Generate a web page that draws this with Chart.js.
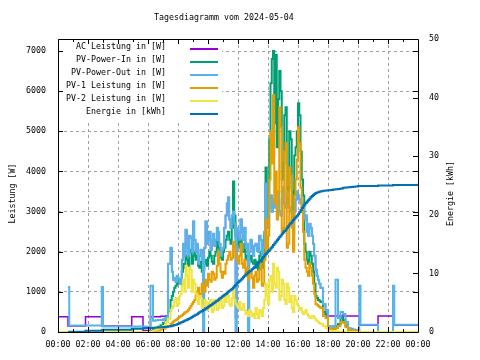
<!DOCTYPE html>
<html>
<head>
<meta charset="utf-8">
<title>Tagesdiagramm</title>
<script src="https://cdn.jsdelivr.net/npm/chart.js@4.4.0/dist/chart.umd.min.js"></script>
<style>
  html, body { margin: 0; padding: 0; background: #fff; }
  canvas { display: block; }
</style>
</head>
<body>
<canvas id="chart" width="480" height="360"></canvas>
<script>
// values, one entry per time stamp
var times = [
  "00:00", "00:40", "00:45", "01:50", "02:55", "03:00", "04:55", "05:40", "05:50",
  "06:00", "06:10", "06:20", "06:30", "06:40", "06:50", "07:00", "07:10", "07:20",
  "07:30", "07:35", "07:40", "07:45", "07:50", "07:55", "08:00", "08:05", "08:10", "08:15", "08:20", "08:25",
  "08:30", "08:35", "08:40", "08:45", "08:50", "08:55", "09:00", "09:05", "09:10", "09:15", "09:20", "09:25",
  "09:30", "09:35", "09:40", "09:45", "09:50", "09:55", "10:00", "10:05", "10:10", "10:15", "10:20", "10:25",
  "10:30", "10:35", "10:40", "10:45", "10:50", "10:55", "11:00", "11:05", "11:10", "11:15", "11:20", "11:25",
  "11:30", "11:35", "11:40", "11:45", "11:50", "11:55", "12:00", "12:05", "12:10", "12:15", "12:20", "12:25",
  "12:30", "12:35", "12:40", "12:45", "12:50", "12:55", "13:00", "13:05", "13:10", "13:15", "13:20", "13:25",
  "13:30", "13:35", "13:40", "13:45", "13:50", "13:55", "14:00", "14:05", "14:10", "14:15", "14:20", "14:25",
  "14:30", "14:35", "14:40", "14:45", "14:50", "14:55", "15:00", "15:05", "15:10", "15:15", "15:20", "15:25",
  "15:30", "15:35", "15:40", "15:45", "15:50", "15:55", "16:00", "16:05", "16:10", "16:15", "16:20", "16:25",
  "16:30", "16:35", "16:40", "16:45", "16:50", "16:55", "17:00", "17:05", "17:10", "17:15", "17:20", "17:25",
  "17:30",
  "17:40", "17:50", "18:00", "18:10", "18:20", "18:30", "18:40", "18:50", "19:00", "19:10", "19:20", "19:30",
  "19:40", "19:50", "20:00",
  "20:05", "20:10", "21:20", "22:20", "22:25", "24:00"
];

var acPower = [
  380, 150, 150, 380, 150, 150, 380, 40, 40,
  40, 380, 380, 380, 380, 390, 390, 400, 1700,
  2100, 1500, 1300, 1350, 1250, 1400, 1350, 1250, 1200, 1800, 2200, 1900,
  2550, 2100, 1900, 2400, 2350, 2000, 2750, 2300, 2000, 2200, 1700, 1900,
  2050, 1800, 350, 2100, 2750, 2200, 2300, 2500, 2050, 2300, 2450, 2150,
  2300, 2600, 2500, 2200, 1900, 2050, 2100, 2600, 2900, 3200, 3350, 2800,
  2600, 2900, 3000, 2700, 350, 2600, 2500, 2300, 2800, 2500, 2300, 2600,
  2100, 2200, 350, 2000, 2300, 2100, 1900, 2150, 2200, 2050, 2000, 2400,
  2300, 1900, 2100, 2500, 3700, 2800, 2600, 3100, 3400, 3000, 3300, 3100,
  3200, 3400, 3500, 3000, 2900, 3300, 3600, 3200, 3100, 3500, 3400, 3100,
  3000, 2700, 2400, 3000, 3300, 3500, 3400, 3300, 3200, 3000, 3100, 2800,
  2900, 2500, 2400, 2700, 2600, 2400, 2200, 1900, 1550, 1400, 1300, 1200,
  1100,
  700, 400, 400, 400, 400, 400, 400, 400, 400, 400, 400, 400,
  400, 400, 400,
  170, 170, 400, 170, 170, 170
];

var pvIn = [
  0, 0, 0, 0, 0, 0, 0, 0, 0,
  0, 20, 50, 90, 130, 170, 230, 380, 520,
  800, 900, 1000, 1100, 1150, 1200, 1250, 1300, 1200, 1500, 1700, 1600,
  1900, 1800, 1650, 2050, 2000, 1700, 1900, 2000, 1800, 1900, 1650, 1600,
  1750, 1500, 1550, 1700, 1800, 1650, 1850, 2000, 1900, 1750, 1700, 1900,
  2000, 2250, 2100, 1900, 1850, 1800, 2000, 2100, 2300, 2400, 2500, 2300,
  2200, 2600, 3750, 2900, 2400, 2200, 2300, 2100, 2300, 2000, 2000, 2200,
  1800, 1900, 1700, 1800, 1900, 1750, 1700, 1800, 1600, 1750, 1550, 1900,
  2000, 1600, 1800, 2400, 4100, 2700, 3000, 4800, 6200, 6800, 7000, 5200,
  6900, 4600, 5800, 6500, 6000, 3800, 4200, 5400, 5600, 3300, 3600, 5000,
  4800, 3500, 2900, 4400, 4600, 5000, 5700, 5400, 4500, 3800, 3400, 2200,
  2000, 1800, 1700, 2000, 1900, 1700, 1500, 1200, 900, 850, 800, 780,
  750,
  500, 450, 150, 80, 90, 150, 200, 350, 300, 150, 60, 50,
  50, 40, 40,
  0, 0, 0, 0, 0, 0
];

var pvOut = [
  null, 1120, 160, 160, 1120, 140, 140, 140, 130,
  130, 1150, 280, 290, 300, 300, 320, 360, 1700,
  2100, 1500, 1300, 1350, 1250, 1400, 1350, 1250, 1200, 1800, 2200, 1900,
  2550, 2100, 1900, 2400, 2350, 2000, 2750, 2300, 2000, 2200, 1700, 1900,
  2050, 1800, 0, 2100, 2750, 2200, 2300, 2500, 2050, 2300, 2450, 2150,
  2300, 2600, 2500, 2200, 1900, 2050, 2100, 2600, 2900, 3200, 3350, 2800,
  2600, 2900, 3000, 2700, 0, 2600, 2500, 2300, 2800, 2500, 2300, 2600,
  2100, 2200, 0, 2000, 2300, 2100, 1900, 2150, 2200, 2050, 2000, 2400,
  2300, 1900, 2100, 2500, 3700, 2800, 2600, 3100, 3400, 3000, 3300, 3100,
  3200, 3400, 3500, 3000, 2900, 3300, 3600, 3200, 3100, 3500, 3400, 3100,
  3000, 2700, 2400, 3000, 3300, 3500, 3400, 3300, 3200, 3000, 3100, 2800,
  2900, 2500, 2400, 2700, 2600, 2400, 2200, 1900, 1550, 1400, 1300, 1200,
  1100,
  700, 550, 150, 120, 150, 1300, 350, 500, 450, 250, 100, 80,
  60, 50, 50,
  1150, 180, 0, 1150, 180, 180
];

var pv1 = [
  0, 0, 0, 0, 0, 0, 0, 0, 0,
  0, 0, 10, 30, 40, 60, 90, 120, 150,
  200, 230, 260, 280, 300, 320, 350, 380, 400, 420, 450, 480,
  500, 520, 550, 600, 650, 700, 750, 800, 900, 1000, 1100, 850,
  950, 1200, 1150, 1000, 1300, 1150, 1450, 1300, 1250, 1500, 1450, 1300,
  1350, 1650, 2000, 1700, 1500, 1350, 1500, 1450, 1700, 1800, 1900, 2000,
  1800, 1850, 2250, 2100, 1900, 1800, 1700, 1900, 2200, 1700, 1600, 1800,
  1400, 1600, 1300, 1450, 1500, 1350, 1100, 1400, 1500, 1250, 1300, 1550,
  1700, 1150, 1200, 1800, 2800, 2000, 2400, 3800, 5000, 4200, 5900, 3200,
  4000, 2800, 3500, 5600, 5100, 2500, 2600, 4500, 4700, 2100, 2200, 4100,
  3900, 2600, 2000, 3400, 3800, 4300, 5100, 4700, 3600, 3100, 2500, 1800,
  1600, 1500, 1400, 1700, 1600, 1400, 1200, 950, 700, 680, 650, 620,
  600,
  400, 350, 100, 60, 70, 100, 150, 250, 230, 120, 50, 40,
  40, 30, 30,
  0, 0, 0, 0, 0, 0
];

var pv2 = [
  0, 0, 0, 0, 0, 0, 0, 0, 0,
  0, 10, 30, 60, 90, 110, 150, 250, 330,
  550, 600, 650, 780, 850, 650, 700, 900, 950, 1150, 1300, 1000,
  1650, 1400, 1100, 1600, 1550, 1000, 1300, 1200, 950, 800, 700, 900,
  850, 600, 650, 800, 750, 550, 600, 750, 800, 500, 550, 800,
  700, 550, 600, 750, 850, 600, 650, 900, 750, 1000, 900, 700,
  650, 850, 1050, 800, 700, 650, 600, 750, 550, 600, 700, 550,
  450, 500, 400, 550, 500, 400, 450, 350, 600, 450, 350, 550,
  500, 400, 600, 800, 1200, 900, 700, 1300, 1400, 1000, 1700, 1200,
  1100, 1600, 1500, 800, 900, 1300, 1200, 800, 700, 1200, 1100, 750,
  900, 600, 500, 900, 800, 700, 650, 550, 600, 500, 450, 500,
  550, 450, 400, 350, 350, 400, 400, 350, 300, 280, 250, 220,
  200,
  150, 100, 30, 10, 10, 10, 10, 10, 0, 0, 0, 0,
  0, 0, 0,
  0, 0, 0, 0, 0, 0
];

var energy = [
  null, 0.0, 0.05, 0.2, 0.35, 0.4, 0.55, 0.65, 0.68,
  0.7, 0.7, 0.72, 0.75, 0.78, 0.8, 0.85, 0.9, 0.95,
  1.0, 1.05, 1.1, 1.18, 1.25, 1.32, 1.4, 1.5, 1.6, 1.7, 1.8, 1.9,
  2.0, 2.1, 2.2, 2.3, 2.45, 2.55, 2.7, 2.8, 2.95, 3.05, 3.2, 3.35,
  3.5, 3.6, 3.75, 3.85, 4.0, 4.15, 4.3, 4.45, 4.6, 4.75, 4.9, 5.05,
  5.2, 5.35, 5.5, 5.7, 5.85, 6.05, 6.2, 6.35, 6.5, 6.7, 6.85, 7.05,
  7.2, 7.4, 7.6, 7.85, 8.05, 8.3, 8.5, 8.7, 8.9, 9.15, 9.35, 9.6,
  9.8, 10.0, 10.2, 10.35, 10.5, 10.7, 10.9, 11.1, 11.35, 11.55, 11.8, 12.05,
  12.3, 12.55, 12.8, 13.05, 13.3, 13.55, 13.8, 14.05, 14.3, 14.55, 14.85, 15.1,
  15.4, 15.65, 15.9, 16.2, 16.45, 16.75, 17.0, 17.25, 17.5, 17.8, 18.05, 18.35,
  18.6, 18.85, 19.1, 19.35, 19.6, 19.85, 20.1, 20.45, 20.8, 21.15, 21.45, 21.75,
  22.0, 22.25, 22.5, 22.75, 23.0, 23.2, 23.4, 23.55, 23.7, 23.8, 23.85, 23.95,
  24.0,
  24.1, 24.15, 24.2, 24.25, 24.3, 24.35, 24.4, 24.5, 24.6, 24.65, 24.7, 24.75,
  24.8, 24.85, 24.9,
  24.9, 24.9, 25.0, 25.1, 25.1, 25.3
];

var powerTicks = [0, 1000, 2000, 3000, 4000, 5000, 6000, 7000];
var energyTicks = [0, 10, 20, 30, 40, 50];

var titleText = "Tagesdiagramm vom 2024-05-04";
var yLabel = "Leistung [W]";
var y2Label = "Energie [kWh]";

var FONT = '"DejaVu Sans Mono", "Liberation Mono", monospace';
var FSIZE = 8.3;

[acPower, pvIn, pvOut, pv1, pv2, energy].forEach(function (arr, i) {
  if (arr.length !== times.length) throw new Error('series ' + i + ' has ' + arr.length + ' values, times has ' + times.length);
});

function toHours(t) {
  var p = t.split(':');
  return +p[0] + p[1] / 60;
}

function series(values) {
  return times.map(function (t, i) { return { x: toHours(t), y: values[i] }; });
}

function hourLabel(v) {
  var h = v % 24;
  return (h < 10 ? '0' : '') + h + ':00';
}

function fixedTicks(list) {
  return function (scale) {
    scale.ticks = list.map(function (v) { return { value: v }; });
  };
}

// gnuplot look: white key box, frame, inward ticks, key, title and axis labels
var gnuplotLook = {
  id: 'gnuplotLook',
  beforeDatasetsDraw: function (chart) {
    var ctx = chart.ctx, a = chart.chartArea;
    ctx.save();
    ctx.fillStyle = '#fff';
    ctx.fillRect(a.left + 1, a.top + 1, 163, 80);
    ctx.restore();
  },
  afterDatasetsDraw: function (chart) {
    var ctx = chart.ctx, a = chart.chartArea;
    var x = chart.scales.x, y = chart.scales.y, y2 = chart.scales.y2;
    ctx.save();
    ctx.strokeStyle = '#000';
    ctx.lineWidth = 1;
    ctx.beginPath();
    ctx.rect(a.left + 0.5, a.top + 0.5, a.right - a.left, a.bottom - a.top);
    // hour ticks, top and bottom
    for (var h = 1; h < 24; h++) {
      var px = Math.round(x.getPixelForValue(h)) + 0.5;
      var len = h % 2 === 0 ? 5 : 3;
      ctx.moveTo(px, a.bottom); ctx.lineTo(px, a.bottom - len);
      ctx.moveTo(px, a.top); ctx.lineTo(px, a.top + len);
    }
    // power ticks, left and mirrored right
    powerTicks.forEach(function (w) {
      var py = Math.round(y.getPixelForValue(w)) + 0.5;
      ctx.moveTo(a.left, py); ctx.lineTo(a.left + 5, py);
      ctx.moveTo(a.right, py); ctx.lineTo(a.right - 5, py);
    });
    // energy ticks on the right
    energyTicks.forEach(function (k) {
      var py2 = Math.round(y2.getPixelForValue(k)) + 0.5;
      ctx.moveTo(a.right, py2); ctx.lineTo(a.right - 5, py2);
    });
    ctx.stroke();

    // key
    ctx.font = FSIZE + 'px ' + FONT;
    ctx.fillStyle = '#000';
    ctx.textAlign = 'right';
    ctx.textBaseline = 'middle';
    chart.data.datasets.forEach(function (ds, i) {
      var ky = a.top + 8 + i * 13;
      ctx.fillText(ds.label, a.left + 108, ky);
      ctx.strokeStyle = ds.borderColor;
      ctx.lineWidth = 2;
      ctx.beginPath();
      ctx.moveTo(a.left + 132, ky + 2);
      ctx.lineTo(a.left + 160, ky + 2);
      ctx.stroke();
    });
    ctx.restore();
  },
  afterDraw: function (chart) {
    var ctx = chart.ctx, a = chart.chartArea;
    var mid = (a.top + a.bottom) / 2 + 8;
    ctx.save();
    ctx.font = FSIZE + 'px ' + FONT;
    ctx.fillStyle = '#000';
    ctx.textBaseline = 'middle';
    ctx.textAlign = 'left';
    ctx.fillText(titleText, 154, 18);
    ctx.textAlign = 'center';
    ctx.translate(13, mid);
    ctx.rotate(-Math.PI / 2);
    ctx.fillText(yLabel, 0, 0);
    ctx.rotate(Math.PI / 2);
    ctx.translate(451 - 13, 0);
    ctx.rotate(-Math.PI / 2);
    ctx.fillText(y2Label, 0, 0);
    ctx.restore();
  }
};

var common = { stepped: true, pointRadius: 0, borderWidth: 2, fill: false };

var ctx = document.getElementById('chart').getContext('2d');
var chart = new Chart(ctx, {
  type: 'line',
  data: {
    datasets: [
      Object.assign({ label: 'AC Leistung in [W]', data: series(acPower), borderColor: '#9400d3', yAxisID: 'y', order: 5 }, common, { borderWidth: 1.5 }),
      Object.assign({ label: 'PV-Power-In in [W]', data: series(pvIn), borderColor: '#009e73', yAxisID: 'y', order: 4 }, common),
      Object.assign({ label: 'PV-Power-Out in [W]', data: series(pvOut), borderColor: '#56b4e9', yAxisID: 'y', order: 3 }, common),
      Object.assign({ label: 'PV-1 Leistung in [W]', data: series(pv1), borderColor: '#e69f00', yAxisID: 'y', order: 2 }, common),
      Object.assign({ label: 'PV-2 Leistung in [W]', data: series(pv2), borderColor: '#f0e442', yAxisID: 'y', order: 1 }, common),
      Object.assign({ label: 'Energie in [kWh]', data: series(energy), borderColor: '#0072b2', yAxisID: 'y2', order: 0 }, common)
    ]
  },
  options: {
    responsive: false,
    animation: false,
    devicePixelRatio: 1,
    layout: { padding: { top: 39, left: 0, right: 0, bottom: 0 } },
    plugins: {
      legend: { display: false },
      title: { display: false },
      tooltip: { enabled: false }
    },
    scales: {
      x: {
        type: 'linear',
        min: 0,
        max: 24,
        afterFit: function (s) { s.height = 28; },
        ticks: {
          stepSize: 2, autoSkip: false, maxRotation: 0, padding: 8,
          color: '#000', font: { family: FONT, size: FSIZE },
          callback: hourLabel
        },
        grid: { color: '#a0a0a0', drawTicks: false },
        border: { display: false, dash: [3, 3] }
      },
      y: {
        position: 'left',
        min: 0,
        max: 7300,
        afterBuildTicks: fixedTicks(powerTicks),
        afterFit: function (s) { s.width = 58; },
        ticks: {
          padding: 12, color: '#000', font: { family: FONT, size: FSIZE },
          callback: function (v) { return String(v); }
        },
        grid: { color: '#a0a0a0', drawTicks: false },
        border: { display: false, dash: [3, 3] }
      },
      y2: {
        position: 'right',
        min: 0,
        max: 50,
        afterBuildTicks: fixedTicks(energyTicks),
        afterFit: function (s) { s.width = 62; },
        ticks: {
          padding: 11, color: '#000', font: { family: FONT, size: FSIZE },
          callback: function (v) { return String(v); }
        },
        grid: { display: false, drawTicks: false },
        border: { display: false }
      }
    }
  },
  plugins: [gnuplotLook]
});
</script>
</body>
</html>
